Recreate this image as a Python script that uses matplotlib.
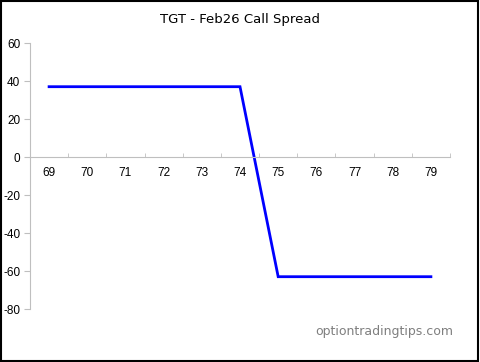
import numpy as np
import matplotlib.pyplot as plt
from matplotlib.patches import Rectangle

# データ
strikes = [69, 70, 71, 72, 73, 74, 75, 76, 77, 78, 79]
profit = [37, 37, 37, 37, 37, 37, -63, -63, -63, -63, -63]
y_ticks = [60, 40, 20, 0, -20, -40, -60, -80]
title = "TGT - Feb26 Call Spread"
watermark = "optiontradingtips.com"

grey = "#bfbfbf"

fig = plt.figure(figsize=(4.8, 3.62), dpi=100)
ax = fig.add_axes([30 / 480, 1 - 309 / 362, 420 / 480, 266 / 362])

ax.plot(strikes, profit, color="#0000ff", linewidth=2, solid_joinstyle="miter")

ax.set_xlim(68.5, 79.5)
ax.set_ylim(-80, 60)

# 軸
for s in ["top", "right"]:
    ax.spines[s].set_visible(False)
ax.spines["bottom"].set_position(("data", 0))
ax.spines["bottom"].set_color(grey)
ax.spines["left"].set_color(grey)

ax.set_yticks(y_ticks)
ax.set_yticklabels([str(v) for v in y_ticks], fontfamily="Liberation Sans", fontsize=8.5)
ax.tick_params(axis="y", direction="out", length=4, color=grey, pad=3)

ax.set_xticks(strikes)
ax.set_xticklabels([str(v) for v in strikes], fontfamily="Liberation Sans", fontsize=8.5)
ax.set_xticks(np.arange(69.5, 80, 1), minor=True)
ax.tick_params(axis="x", which="major", length=0, pad=7)
ax.tick_params(axis="x", which="minor", direction="in", length=3, color=grey)

fig.text(0.5, 1 - 20 / 362, title, ha="center", va="center", fontsize=9.5,
         fontfamily="DejaVu Sans")
fig.text(453 / 480, 1 - 331 / 362, watermark, ha="right", va="center", fontsize=9,
         fontfamily="DejaVu Sans", color="#7f7f7f")

# 外枠
fig.patches.append(Rectangle((0.002, 0.002), 0.994, 0.994, transform=fig.transFigure,
                             fill=False, edgecolor="black", linewidth=1.5))

fig.savefig("out.png", dpi=100)
